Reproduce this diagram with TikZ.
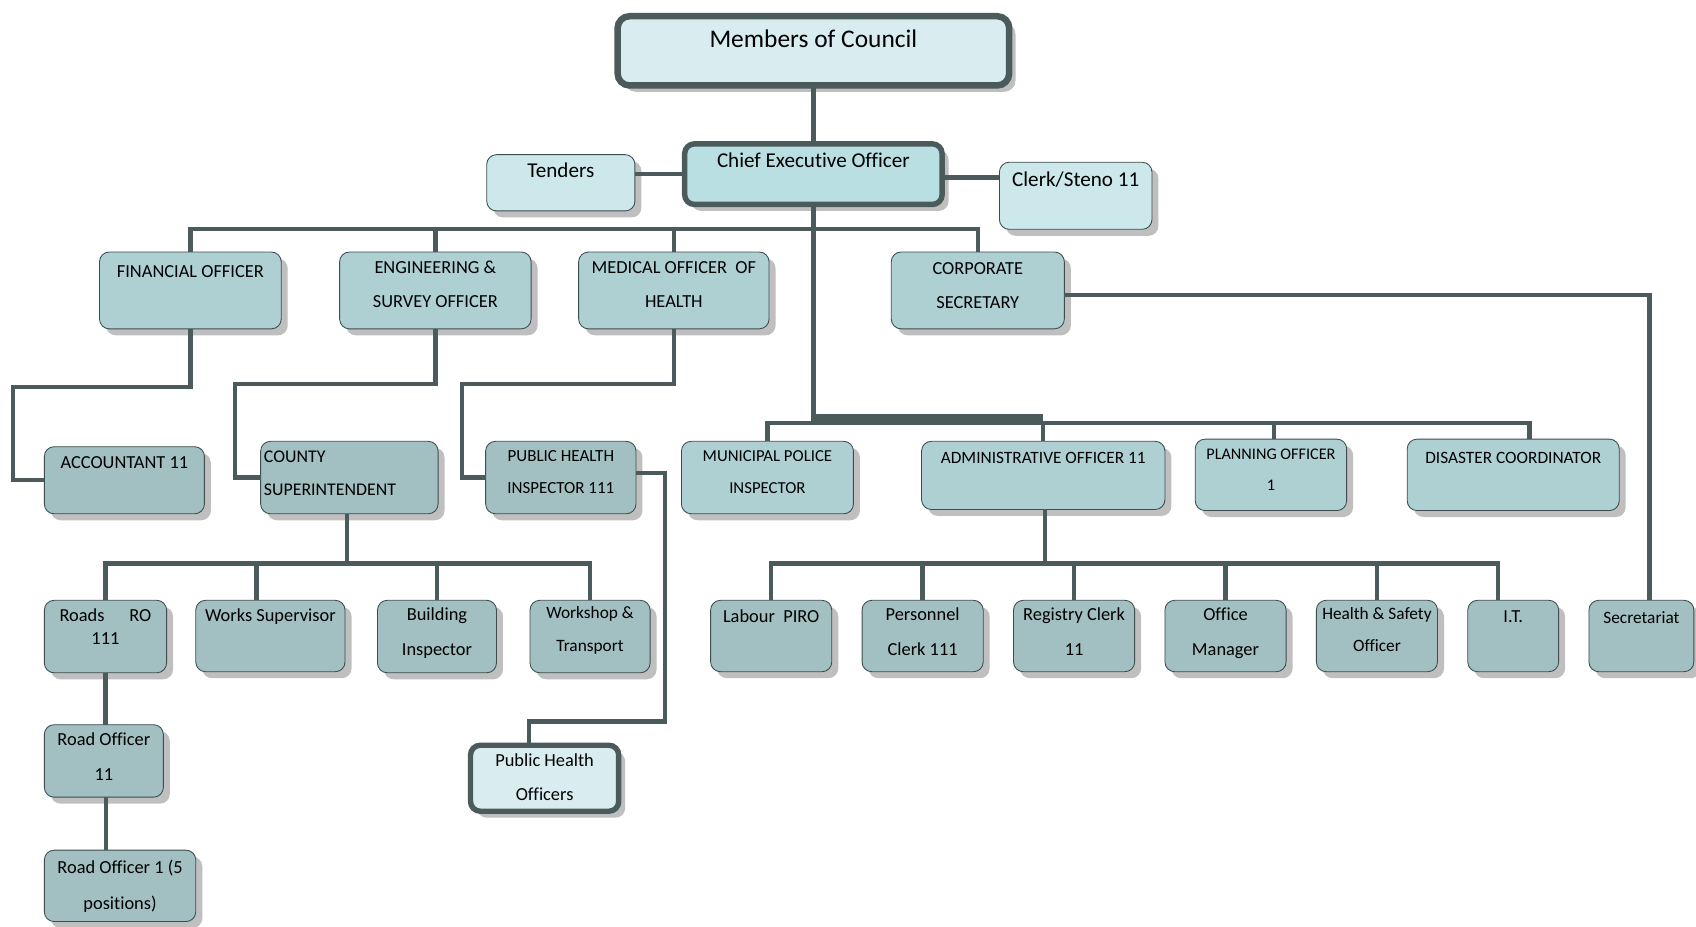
\documentclass[tikz,border=0pt]{standalone}
\usepackage{fontspec}
\setmainfont{Carlito}[Ligatures=NoCommon]
\usetikzlibrary{shadows}
\definecolor{conn}{HTML}{4B5A5B}
\definecolor{edge}{HTML}{3E4C4D}
\definecolor{shade}{HTML}{BFBFBF}
\definecolor{pale}{HTML}{D9EDF0}
\definecolor{ceofill}{HTML}{B9DFE3}
\definecolor{side}{HTML}{CCE8EB}
\definecolor{mid}{HTML}{AED0D3}
\definecolor{dark}{HTML}{A2BFC1}
\newcommand\fs[1]{\fontsize{#1}{#1}\selectfont}
% #1 style, #2 name, #3 x1, #4 y1, #5 x2, #6 y2, #7 first-line y, #8 line skip, #9 text
\newcommand\orgbox[9]{%
  \pgfmathsetmacro\obW{#5-#3}%
  \pgfmathsetmacro\obH{#6-#4}%
  \pgfmathsetmacro\obX{(#3+#5)/2}%
  \pgfmathsetmacro\obY{-(#4+#6)/2}%
  \node[#1] (#2) at (\obX,\obY) {\parbox[c][\obH pt][t]{\obW pt}{\centering\baselineskip=#8pt\vspace*{\dimexpr#7pt-#4pt-0.678em\relax}\rule{0pt}{1em}#9\par}};}
\tikzset{
  base/.style={draw=edge, line width=0.8pt, rounded corners=9pt, inner sep=0pt, outer sep=0pt,
    drop shadow={shadow xshift=6pt, shadow yshift=-6pt, fill=shade, opacity=1}},
  topbox/.style={base, fill=pale, draw=conn, line width=6pt, rounded corners=11pt, font=\fs{23.5}},
  ceobox/.style={base, fill=ceofill, draw=conn, line width=5pt, font=\fs{19.5}},
  sidebox/.style={base, fill=side, font=\fs{19.5}},
  midbox/.style={base, fill=mid, font=\fs{17}},
  darkbox/.style={base, fill=dark, font=\fs{17}},
  phobox/.style={base, fill=pale, draw=conn, line width=5pt, font=\fs{17}},
  link/.style={draw=conn, line width=4pt},
  trunk/.style={draw=conn, line width=5pt},
  heavy/.style={draw=conn, line width=7pt},
}
\begin{document}
\begin{tikzpicture}[x=1pt,y=1pt]
\useasboundingbox (0,0) rectangle (1568,-857);
% top
\orgbox{topbox}{mem}{571}{15}{933}{79}{36}{24}{Members of Council}
\orgbox{ceobox}{ceo}{633}{133}{871}{189}{149}{20}{Chief Executive Officer}
\orgbox{sidebox}{ten}{450}{143}{587}{195}{158}{20}{Tenders}
\orgbox{sidebox}{clk}{924}{150}{1065}{212}{166}{20}{Clerk/Steno 11}
% row 2
\orgbox{midbox}{fin}{92}{233}{260}{304}{251}{32}{FINANCIAL OFFICER}
\orgbox{midbox}{eng}{314}{233}{491}{304}{247}{32}{ENGINEERING \&\\SURVEY OFFICER}
\orgbox{midbox}{med}{535}{233}{711}{304}{247}{32}{MEDICAL OFFICER\ \ OF\\HEALTH}
\orgbox{midbox}{corp}{824}{233}{984}{304}{248}{32}{CORPORATE\\SECRETARY}
% row 3
\orgbox{darkbox}{acc}{41}{413}{189}{475}{428}{31}{ACCOUNTANT 11}
\orgbox{{darkbox, font=\fs{16.5}}}{cty}{241}{408}{405}{475}{422}{31}{\raggedright\hspace*{3pt}COUNTY\\\hspace*{3pt}SUPERINTENDENT}
\orgbox{{darkbox, font=\fs{15.7}}}{phi}{449}{408}{588}{475}{422}{29}{PUBLIC HEALTH\\INSPECTOR 111}
\orgbox{{midbox, font=\fs{15.5}}}{mun}{630}{408}{789}{475}{422}{29}{MUNICIPAL POLICE\\INSPECTOR}
\orgbox{{midbox, font=\fs{16}}}{adm}{852}{408}{1077}{471}{423}{29}{ADMINISTRATIVE OFFICER 11}
\orgbox{{midbox, font=\fs{15}}}{pla}{1105}{406}{1245}{472}{420}{29}{PLANNING OFFICER\\1}
\orgbox{{midbox, font=\fs{16}}}{dis}{1301}{406}{1497}{472}{423}{29}{DISASTER COORDINATOR}
% row 4 left
\orgbox{darkbox}{rds}{41}{555}{154}{622}{569}{21}{Roads\hspace{23pt}RO\\111}
\orgbox{darkbox}{wks}{181}{555}{319}{621}{569}{32}{Works Supervisor}
\orgbox{darkbox}{bld}{349}{555}{459}{622}{568}{33}{Building\\Inspector}
\orgbox{{darkbox, font=\fs{16}}}{wsh}{490}{555}{601}{622}{567}{30}{Workshop \&\\Transport}
\orgbox{darkbox}{rotwo}{41}{670}{151}{737}{684}{32}{Road Officer\\11}
\orgbox{darkbox}{roone}{41}{786}{181}{852}{802}{33}{Road Officer 1 (5\\positions)}
\orgbox{phobox}{pho}{435}{689}{572}{750}{703}{32}{Public Health\\Officers}
% row 4 right
\orgbox{darkbox}{lab}{657}{555}{769}{621}{570}{33}{Labour\ \ PIRO}
\orgbox{darkbox}{per}{797}{555}{909}{621}{568}{33}{Personnel\\Clerk 111}
\orgbox{darkbox}{reg}{937}{555}{1049}{621}{568}{33}{Registry Clerk\\11}
\orgbox{darkbox}{off}{1077}{555}{1189}{621}{568}{33}{Office\\Manager}
\orgbox{{darkbox, font=\fs{16}}}{hs}{1217}{555}{1329}{621}{568}{29}{Health \& Safety\\Officer}
\orgbox{darkbox}{it}{1357}{555}{1441}{621}{570}{33}{I.T.}
\orgbox{{darkbox, font=\fs{16}}}{sec}{1469}{555}{1566}{621}{571}{33}{Secretariat}
% bus levels
\coordinate (busTop) at (0,-212);
\coordinate (busMid) at (0,-391);
\coordinate (jn) at (752,-386.5);
\coordinate (busL) at (0,-521);
% connectors
\draw[trunk] (mem.south) -- (ceo.north);
\draw[link] (ceo.west) -- (ceo.west -| ten.east);
\draw[link] ([yshift=-3pt]ceo.east) -- ([yshift=-3pt]ceo.east -| clk.west);
\draw[link] (fin.north) |- (corp.north |- busTop) -- (corp.north);
\draw[link] (eng.north) -- (eng.north |- busTop);
\draw[link] (med.north) -- (med.north |- busTop);
\draw[trunk] (ceo.south) -- (jn);
\draw[heavy] ([xshift=-2.5pt]jn) -- (adm.north |- jn);
\draw[link] (mun.north) |- ([xshift=15pt]dis.north |- busMid) -- ([xshift=15pt]dis.north);
\draw[link] (adm.north) -- (adm.north |- busMid);
\draw[link] ([xshift=3pt]pla.north) -- ([xshift=3pt]pla.north |- busMid);
\draw[link] (fin.south) -- ++(0,-54) -| ([xshift=-29pt]acc.west) -- (acc.west);
\draw[link] (eng.south) -- ++(0,-51) -| ([xshift=-24pt]cty.west) -- (cty.west);
\draw[link] (med.south) -- ++(0,-51) -| ([xshift=-22pt]phi.west) -- (phi.west);
\coordinate (phiBend) at (615,-667);
\draw[link] ([yshift=4.5pt]phi.east) -| (phiBend) -| ([xshift=-14.5pt]pho.north);
\draw[link] ([yshift=-4.5pt]corp.east) -| ([xshift=7.5pt]sec.north);
\draw[link] ([xshift=-2pt]cty.south) -- ([xshift=-2pt]cty.south |- busL);
\draw[link] (rds.north) |- (wsh.north |- busL) -- (wsh.north);
\draw[link] ([xshift=-13pt]wks.north) -- ([xshift=-13pt]wks.north |- busL);
\draw[link] (bld.north) -- (bld.north |- busL);
\draw[link] ([xshift=1.5pt]adm.south) -- ([xshift=1.5pt]adm.south |- busL);
\draw[link] (lab.north) |- ([xshift=-14pt]it.north |- busL) -- ([xshift=-14pt]it.north);
\draw[link] (per.north) -- (per.north |- busL);
\draw[link] (reg.north) -- (reg.north |- busL);
\draw[link] (off.north) -- (off.north |- busL);
\draw[link] (hs.north) -- (hs.north |- busL);
\draw[link] (rds.south) -- (rds.south |- rotwo.north);
\draw[link] ([xshift=2pt]rotwo.south) -- ([xshift=2pt]rotwo.south |- roone.north);
\end{tikzpicture}
\end{document}
